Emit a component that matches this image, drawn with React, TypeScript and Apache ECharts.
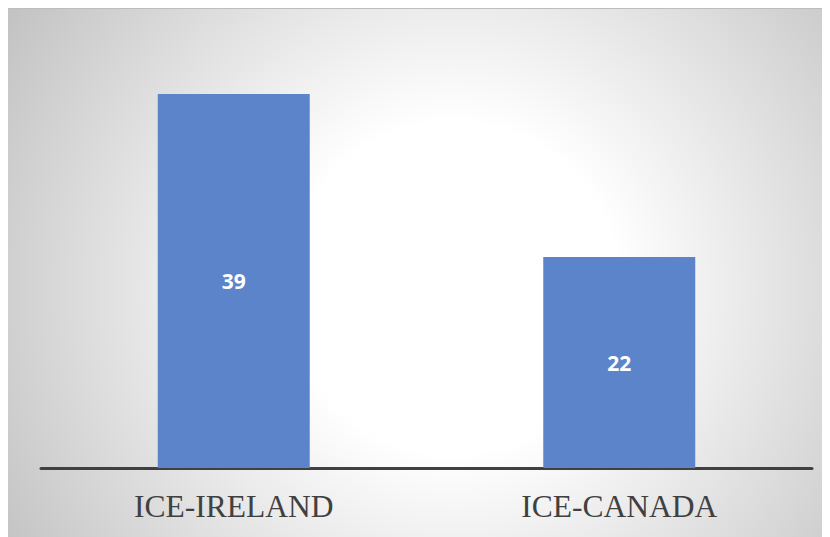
import React, { useEffect, useRef } from "react";
import * as echarts from "echarts";

const categories = ["ICE-IRELAND", "ICE-CANADA"];
const values = [39, 22];
const yMax = 45;

export default function App() {
  const ref = useRef<HTMLDivElement>(null);
  useEffect(() => {
    if (!ref.current) return;
    const chart = echarts.init(ref.current, null, { renderer: "svg" });
    chart.setOption({
      animation: false,
      graphic: [
        {
          type: "rect",
          z: -10,
          silent: true,
          shape: { x: 0, y: 0, width: 822, height: 529 },
          style: {
            fill: new echarts.graphic.RadialGradient(445, 280, 550, [
              { offset: 0, color: "#ffffff" },
              { offset: 0.3, color: "#ffffff" },
              { offset: 1, color: "#bebebe" },
            ], true),
          },
        },
        {
          type: "line",
          z: -9,
          silent: true,
          shape: { x1: 0, y1: 0, x2: 822, y2: 0 },
          style: { stroke: "#bdbdbd", lineWidth: 2 },
        },
      ],
      grid: { left: 33, right: 18, top: 28.5, bottom: 69, containLabel: false },
      xAxis: {
        type: "category",
        data: categories,
        axisLine: { show: true, lineStyle: { color: "#404040", width: 3 } },
        axisTick: { show: false },
        axisLabel: {
          color: "#404040",
          fontFamily: "Liberation Serif",
          fontSize: 31.5,
          margin: 22,
        },
      },
      yAxis: {
        type: "value",
        min: 0,
        max: yMax,
        show: false,
        splitLine: { show: false },
      },
      series: [
        {
          type: "bar",
          data: values,
          barWidth: 152,
          itemStyle: { color: "#5b84cb" },
          label: {
            show: true,
            position: "inside",
            color: "#ffffff",
            fontFamily: "Open Sans",
            fontWeight: "bold",
            fontSize: 21,
          },
        },
      ],
    });
    return () => chart.dispose();
  }, []);
  return <div ref={ref} style={{ width: 822, height: 529 }} />;
}
